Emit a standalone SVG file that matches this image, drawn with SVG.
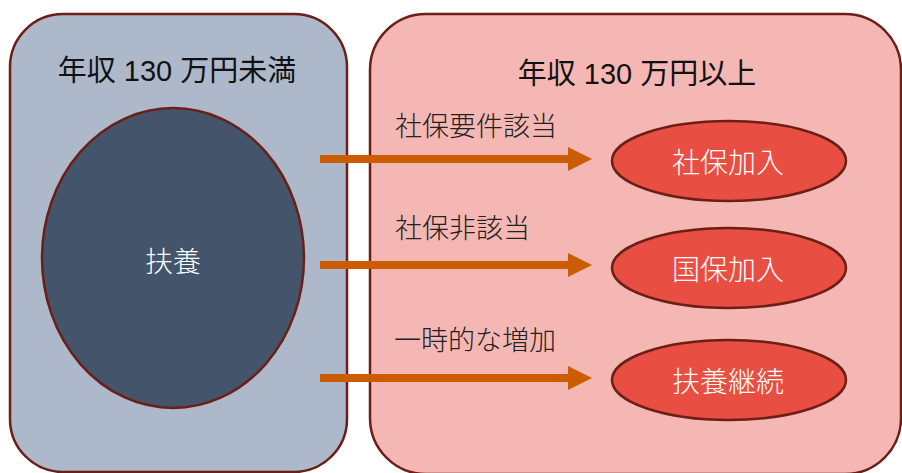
<svg xmlns="http://www.w3.org/2000/svg" width="902" height="473" viewBox="0 0 902 473">
<style>
.box{stroke:#6b1f16;stroke-width:2.5}
.node{fill:#e94e42;stroke:#6b1f16;stroke-width:2.5}
.t{font-family:"Liberation Sans","Noto Sans CJK JP",sans-serif;fill:#111}
.title{font-size:29px;text-anchor:middle}
.lbl{font-family:"Noto Sans CJK JP",sans-serif;font-size:27px;fill:#222;font-weight:300}
.wt{font-family:"Noto Sans CJK JP",sans-serif;font-size:28px;fill:#fff;text-anchor:middle;font-weight:300}
.arr{stroke:#cc5c00;stroke-width:8;fill:none}
.head{fill:#cc5c00}
</style>
<rect width="902" height="473" fill="#ffffff"/>
<g id="group-under">
<rect class="box" x="10" y="14" width="337" height="458" rx="53" ry="53" fill="#adb9ca"/>
<text class="t title" x="177" y="81">年収 130 万円未満</text>
</g>
<g id="group-over">
<rect class="box" x="370" y="14" width="531" height="460" rx="56" ry="56" fill="#f5b7b4"/>
<text class="t title" x="637" y="84">年収 130 万円以上</text>
</g>
<g id="node-fuyou">
<ellipse cx="173" cy="258" rx="131" ry="150" fill="#44546a" stroke="#6b1f16" stroke-width="2.5"/>
<text class="wt" x="173" y="272">扶養</text>
</g>
<g id="node-shaho">
<ellipse class="node" cx="729" cy="161" rx="117" ry="40"/>
<text class="wt" x="728" y="173">社保加入</text>
</g>
<g id="node-kokuho">
<ellipse class="node" cx="729" cy="268" rx="117" ry="40"/>
<text class="wt" x="728" y="280">国保加入</text>
</g>
<g id="node-keizoku">
<ellipse class="node" cx="729" cy="380" rx="117" ry="40"/>
<text class="wt" x="728" y="392">扶養継続</text>
</g>
<g id="connectors">
<line class="arr" x1="320" y1="159" x2="570" y2="159"/>
<polygon class="head" points="568,147 592,159 568,171"/>
<line class="arr" x1="320" y1="265" x2="570" y2="265"/>
<polygon class="head" points="568,253 592,265 568,277"/>
<line class="arr" x1="320" y1="378" x2="570" y2="378"/>
<polygon class="head" points="568,366 592,378 568,390"/>
<text class="lbl" x="395" y="136">社保要件該当</text>
<text class="lbl" x="395" y="238">社保非該当</text>
<text class="lbl" x="394" y="350">一時的な増加</text>
</g>
</svg>
